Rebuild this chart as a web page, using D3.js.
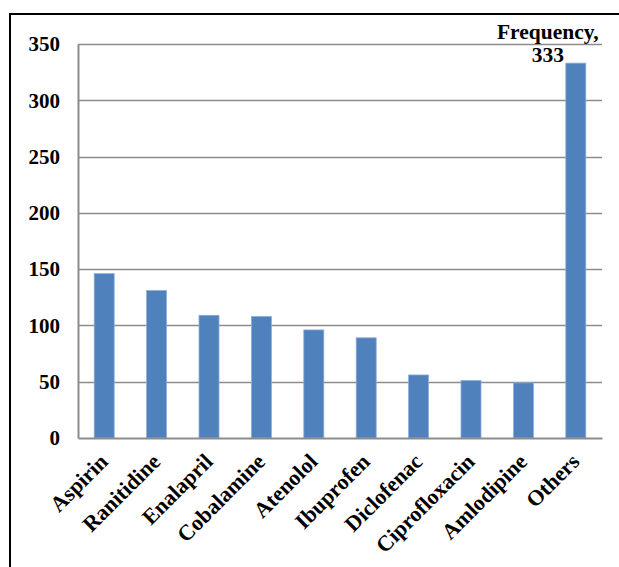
<!DOCTYPE html>
<html>
<head>
<meta charset="utf-8">
<script src="https://cdn.jsdelivr.net/npm/d3@7/dist/d3.min.js"></script>
<style>
  html, body { margin: 0; padding: 0; background: #fff; }
  svg { display: block; }
  text { font-family: "Liberation Serif", "Times New Roman", serif; font-weight: bold; fill: #000; }
</style>
</head>
<body>
<script>
// Drug names and how often each was recorded
const drugs = ["Aspirin", "Ranitidine", "Enalapril", "Cobalamine", "Atenolol",
               "Ibuprofen", "Diclofenac", "Ciprofloxacin", "Amlodipine", "Others"];
const frequency = [146, 131, 109, 108, 96, 89, 56, 51, 49, 333];
const yTicks = [0, 50, 100, 150, 200, 250, 300, 350];
const seriesName = "Frequency";

const W = 619, H = 567;
const margin = { left: 78, right: 17, top: 44, bottom: 129 };

const svg = d3.select("body").append("svg")
  .attr("width", W).attr("height", H);

// outer chart frame (runs off the right and bottom edges)
svg.append("rect")
  .attr("x", 10).attr("y", 14)
  .attr("width", W + 20).attr("height", H + 20)
  .attr("fill", "none").attr("stroke", "#000").attr("stroke-width", 2);

const x = d3.scaleBand()
  .domain(drugs)
  .range([margin.left, W - margin.right])
  .paddingInner(0.618)
  .paddingOuter(0.309);

const y = d3.scaleLinear()
  .domain([0, 350])
  .range([H - margin.bottom, margin.top]);

// horizontal gridlines
svg.append("g")
  .selectAll("line")
  .data(yTicks.filter(d => d > 0))
  .join("line")
  .attr("x1", margin.left).attr("x2", W - margin.right)
  .attr("y1", d => Math.round(y(d)) + 0.5).attr("y2", d => Math.round(y(d)) + 0.5)
  .attr("stroke", "#8c8c8c").attr("stroke-width", 1.5);

// bars
svg.append("g")
  .selectAll("rect")
  .data(drugs.map((d, i) => ({ name: d, value: frequency[i] })))
  .join("rect")
  .attr("x", d => x(d.name))
  .attr("y", d => y(d.value))
  .attr("width", x.bandwidth())
  .attr("height", d => y(0) - y(d.value))
  .attr("fill", "#4f81bd")
  .attr("stroke", "#8fadd9")
  .attr("stroke-width", 0.8);

// y axis
const yAxis = svg.append("g")
  .attr("transform", `translate(${margin.left},0)`)
  .call(d3.axisLeft(y).tickValues(yTicks).tickSize(0).tickPadding(18));
yAxis.select(".domain").attr("stroke", "#8c8c8c").attr("stroke-width", 2);
yAxis.selectAll("text")
  .style("font-family", "'Liberation Serif', serif")
  .style("font-weight", "bold")
  .style("font-size", "21px")
  .attr("fill", "#000");

// x axis
const xAxis = svg.append("g")
  .attr("transform", `translate(0,${y(0)})`)
  .call(d3.axisBottom(x).tickSize(0).tickPadding(0));
xAxis.select(".domain").attr("stroke", "#8c8c8c").attr("stroke-width", 2);
xAxis.selectAll("text")
  .style("font-family", "'Liberation Serif', serif")
  .style("font-weight", "bold")
  .style("font-size", "22px")
  .attr("fill", "#000")
  .attr("dy", null)
  .attr("y", 0)
  .attr("text-anchor", "end")
  .attr("transform", "translate(5,25) rotate(-45)");

// value label for the tallest bar
const last = drugs.length - 1;
const lx = x(drugs[last]) + x.bandwidth() / 2 - 28;
const lbl = svg.append("text")
  .attr("text-anchor", "middle")
  .style("font-size", "21.5px");
lbl.append("tspan").attr("x", lx).attr("y", y(frequency[last]) - 24).text(seriesName + ",");
lbl.append("tspan").attr("x", lx).attr("y", y(frequency[last]) - 1).text(frequency[last]);
</script>
</body>
</html>
